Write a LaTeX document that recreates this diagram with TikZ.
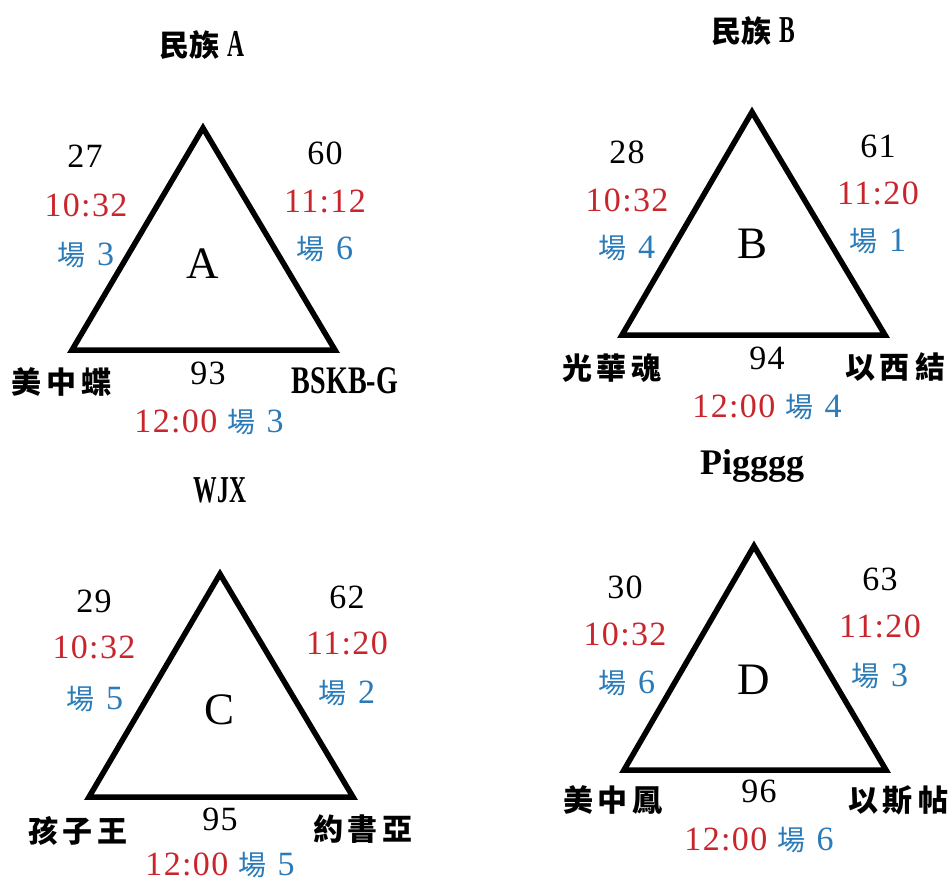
\documentclass[tikz,border=0pt]{standalone}
\usepackage{fontspec}
\setmainfont{Liberation Serif}
\newfontfamily\cjk{Noto Sans CJK TC}
\newfontfamily\cond{Liberation Serif}[FakeStretch=0.72]
\newfontfamily\condn{Liberation Serif}[FakeStretch=0.62]
\newfontfamily\numf{Liberation Serif}[LetterSpace=4]
\definecolor{tred}{RGB}{201,37,44}
\definecolor{tblue}{RGB}{43,123,185}
\newcommand\fld[1]{{\cjk\fontsize{28}{30}\selectfont 場}\,\,#1}
\newcommand\tk{\kern5pt}
\newcommand\ttl[1]{{\cjk\bfseries\fontsize{30}{32}\selectfont 民族}\kern8pt{\condn\bfseries\fontsize{38}{40}\selectfont #1}}
\tikzset{
  tri/.style={draw=black, line width=5.5pt, line join=miter},
  numlbl/.style={font=\numf\fontsize{34}{36}\selectfont, inner sep=0pt},
  timelbl/.style={numlbl, text=tred},
  fieldlbl/.style={numlbl, text=tblue},
  letterlbl/.style={font=\fontsize{45}{47}\selectfont, inner sep=0pt},
  team/.style={font=\cjk\bfseries\fontsize{30}{32}\selectfont, inner sep=0pt},
  teamlatin/.style={font=\cond\bfseries\fontsize{39}{41}\selectfont, inner sep=0pt},
  titlelbl/.style={inner sep=0pt}
}
\begin{document}
\begin{tikzpicture}[x=1pt,y=-1pt]
\useasboundingbox[fill=white] (0,0) rectangle (950,881);

% ---------- A ----------
\coordinate (At) at (203,128);
\coordinate (Al) at (72,350);
\coordinate (Ar) at (335,350);
\draw[tri] (At) -- (Al) -- (Ar) -- cycle;
\node[titlelbl] (Atitle) at (202,45) {\ttl{A}};
\node[letterlbl] (Aletter) at (203,264) {A};
\node[numlbl] (An1) at (85,156) {27};
\node[timelbl] (At1) at (86,205) {10:32};
\node[fieldlbl] (Af1) at (86,255) {\fld{3}};
\node[numlbl] (An2) at (325,153) {60};
\node[timelbl] (At2) at (325,201) {11:12};
\node[fieldlbl] (Af2) at (325,249) {\fld{6}};
\node[team] (Aleft) at (62,382) {美\tk 中\tk 蝶};
\node[teamlatin] (Aright) at (345,381) {BSKB-G};
\node[numlbl] (An3) at (208,373) {93};
\node[timelbl] (At3) at (209,422) {12:00 \textcolor{tblue}{\fld{3}}};

% ---------- B ----------
\coordinate (Bt) at (752,112);
\coordinate (Bl) at (622,335);
\coordinate (Br) at (885,335);
\draw[tri] (Bt) -- (Bl) -- (Br) -- cycle;
\node[titlelbl] (Btitle) at (753,31) {\ttl{B}};
\node[letterlbl] (Bletter) at (752,244) {B};
\node[numlbl] (Bn1) at (627,152) {28};
\node[timelbl] (Bt1) at (627,200) {10:32};
\node[fieldlbl] (Bf1) at (627,248) {\fld{4}};
\node[numlbl] (Bn2) at (878,146) {61};
\node[timelbl] (Bt2) at (878,193) {11:20};
\node[fieldlbl] (Bf2) at (878,241) {\fld{1}};
\node[team] (Bleft) at (612,368) {光\tk 華\tk 魂};
\node[team] (Bright) at (895,367) {以\tk 西\tk 結};
\node[numlbl] (Bn3) at (767,358) {94};
\node[timelbl] (Bt3) at (767,407) {12:00 \textcolor{tblue}{\fld{4}}};

% ---------- C ----------
\coordinate (Ct) at (220,574);
\coordinate (Cl) at (89,797);
\coordinate (Cr) at (353,797);
\draw[tri] (Ct) -- (Cl) -- (Cr) -- cycle;
\node[titlelbl, font=\condn\bfseries\fontsize{38}{40}\selectfont] (Ctitle) at (220,490) {WJX};
\node[letterlbl] (Cletter) at (220,710) {C};
\node[numlbl] (Cn1) at (94,601) {29};
\node[timelbl] (Ct1) at (94,647) {10:32};
\node[fieldlbl] (Cf1) at (95,699) {\fld{5}};
\node[numlbl] (Cn2) at (347,597) {62};
\node[timelbl] (Ct2) at (347,643) {11:20};
\node[fieldlbl] (Cf2) at (347,693) {\fld{2}};
\node[team] (Cleft) at (78,831) {孩\tk 子\tk 王};
\node[team] (Cright) at (363,829) {約\tk 書\tk 亞};
\node[numlbl] (Cn3) at (220,819) {95};
\node[timelbl] (Ct3) at (220,865) {12:00 \textcolor{tblue}{\fld{5}}};

% ---------- D ----------
\coordinate (Dt) at (754,546);
\coordinate (Dl) at (624,770);
\coordinate (Dr) at (886,770);
\draw[tri] (Dt) -- (Dl) -- (Dr) -- cycle;
\node[titlelbl, font=\bfseries\fontsize{36}{38}\selectfont] (Dtitle) at (752,466) {Pigggg};
\node[letterlbl] (Dletter) at (754,680) {D};
\node[numlbl] (Dn1) at (625,587) {30};
\node[timelbl] (Dt1) at (625,634) {10:32};
\node[fieldlbl] (Df1) at (627,683) {\fld{6}};
\node[numlbl] (Dn2) at (880,579) {63};
\node[timelbl] (Dt2) at (880,626) {11:20};
\node[fieldlbl] (Df2) at (880,676) {\fld{3}};
\node[team] (Dleft) at (613,800) {美\tk 中\tk 鳳};
\node[team] (Dright) at (898,800) {以\tk 斯\tk 帖};
\node[numlbl] (Dn3) at (759,791) {96};
\node[timelbl] (Dt3) at (759,840) {12:00 \textcolor{tblue}{\fld{6}}};
\end{tikzpicture}
\end{document}
